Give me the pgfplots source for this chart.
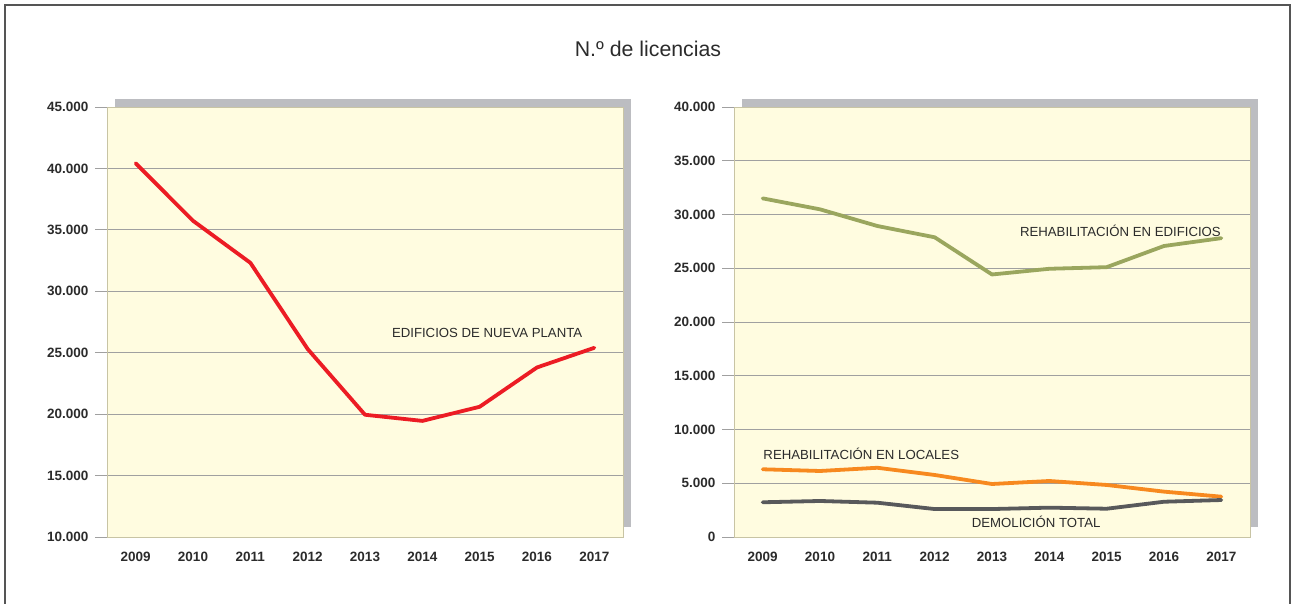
\documentclass[border=0pt]{standalone}
\usepackage{fontspec}
\setmainfont{Liberation Sans}
\usepackage{pgfplots}
\pgfplotsset{compat=1.18}
\definecolor{cream}{HTML}{FFFCE0}
\definecolor{shadow}{HTML}{BCBDC1}
\definecolor{gridc}{HTML}{A0A0A0}
\definecolor{redl}{HTML}{EC1C24}
\definecolor{olive}{HTML}{9AA65E}
\definecolor{orangel}{HTML}{F7891F}
\definecolor{darkl}{HTML}{58595B}
\definecolor{txt}{HTML}{2B2B2B}
\definecolor{edge}{HTML}{C8C4A4}
\definecolor{framec}{HTML}{555555}
\pgfplotsset{mystyle/.style={
 scale only axis, width=516pt, height=430pt, anchor=south west,
 xmin=-0.5, xmax=8.5, xtick={0,1,2,3,4,5,6,7,8},
 xticklabels={2009,2010,2011,2012,2013,2014,2015,2016,2017},
 axis background/.style={fill=cream},
 axis line style={edge, line width=0.8pt},
 ymajorgrids, grid style={gridc, line width=0.8pt},
 major x tick style={draw=none},
 ytick style={gridc, line width=0.8pt},
 ytick pos=left, xtick pos=bottom,
 tick align=outside, major tick length=12pt,
 ticklabel style={font=\fontsize{13.5}{14}\selectfont\bfseries, text=txt},
 /pgf/number format/1000 sep={.},
 /pgf/number format/fixed,
 yticklabel style={xshift=-3pt},
 scaled y ticks=false,
 /pgf/number format/assume math mode=true,
 clip=false,
 every axis plot/.append style={line width=3.8pt, line join=round, line cap=round, mark=none},
}}
\begin{document}
\begin{tikzpicture}[x=1pt,y=1pt]
\useasboundingbox (0,0) rectangle (1292,604);
\draw[framec, line width=1.6pt] (5,0) -- (5,599) -- (1290,599) -- (1290,0);
\node[font=\fontsize{21.3}{23}\selectfont, text=txt] at (648,555) {N.º de licencias};
\fill[shadow] (115,77) rectangle (631,505);
\fill[shadow] (742,77) rectangle (1258,505);
\begin{axis}[mystyle, at={(107pt,67pt)}, ymin=10000, ymax=45000, ytick={10000,15000,...,45000}]
\addplot[redl] coordinates {(0,40420) (1,35740) (2,32320) (3,25300) (4,19950) (5,19450) (6,20600) (7,23800) (8,25400)};
\node[font=\fontsize{13.2}{15}\selectfont, text=txt] at (axis cs:6.13,26600) {EDIFICIOS DE NUEVA PLANTA};
\end{axis}
\begin{axis}[mystyle, at={(734pt,67pt)}, ymin=0, ymax=40000, ytick={0,5000,...,40000}]
\addplot[olive] coordinates {(0,31500) (1,30480) (2,28930) (3,27880) (4,24420) (5,24950) (6,25100) (7,27070) (8,27800)};
\addplot[orangel] coordinates {(0,6300) (1,6140) (2,6440) (3,5770) (4,4930) (5,5210) (6,4840) (7,4220) (8,3750)};
\addplot[darkl] coordinates {(0,3230) (1,3350) (2,3190) (3,2600) (4,2600) (5,2730) (6,2630) (7,3280) (8,3440)};
\node[font=\fontsize{13.2}{15}\selectfont, text=txt] at (axis cs:6.24,28470) {REHABILITACIÓN EN EDIFICIOS};
\node[font=\fontsize{13.2}{15}\selectfont, text=txt] at (axis cs:1.72,7720) {REHABILITACIÓN EN LOCALES};
\node[font=\fontsize{13.2}{15}\selectfont, text=txt] at (axis cs:4.77,1400) {DEMOLICIÓN TOTAL};
\end{axis}
\end{tikzpicture}
\end{document}
